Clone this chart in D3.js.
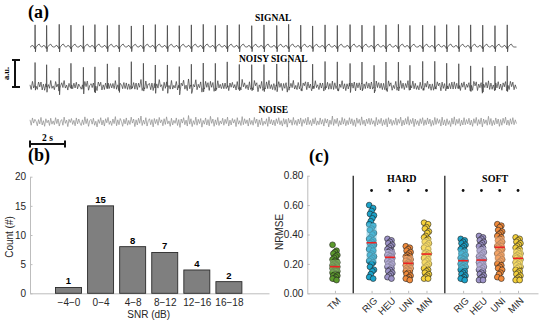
<!DOCTYPE html>
<html>
<head>
<meta charset="utf-8">
<script src="https://cdn.jsdelivr.net/npm/d3@7"></script>
<style>
body { margin: 0; background: #fff; }
svg { display: block; font-family: "Liberation Sans", Arial, sans-serif; }
.serif { font-family: "Liberation Serif", "Times New Roman", serif; font-weight: bold; }
</style>
</head>
<body>
<svg id="fig" width="550" height="324"></svg>
<script>
// ---------- panel (a): ECG traces (time in s, amplitude in a.u.) ----------
var duration = 27.8;
var rPeaks = [0.29, 0.95, 1.67, 2.34, 3.05, 3.71, 4.42, 5.09, 5.79, 6.48,
              7.16, 7.85, 8.53, 9.22, 9.90, 10.59, 11.27, 11.96, 12.67, 13.37,
              14.10, 14.78, 15.47, 16.15, 16.86, 17.56, 18.29, 18.97, 19.66, 20.34,
              21.05, 21.71, 22.44, 23.13, 23.81, 24.50, 25.18, 25.87, 26.57, 27.27];
var rAmp = [0.82, 0.80, 0.84, 0.81, 0.79, 0.83, 0.80, 0.82, 0.78, 0.81,
            0.83, 0.80, 0.79, 0.82, 0.84, 0.80, 0.81, 0.83, 0.79, 0.82,
            0.80, 0.84, 0.81, 0.78, 0.82, 0.80, 0.83, 0.81, 0.79, 0.82,
            0.84, 0.80, 0.81, 0.79, 0.83, 0.80, 0.82, 0.81, 0.79, 0.82];
// one beat, relative to the R peak
var beatT = [-0.25, -0.19, -0.13, -0.08, -0.04, -0.015, 0, 0.02, 0.045, 0.09, 0.16, 0.24, 0.31, 0.38];
var beatV = [0, 0.07, 0.07, 0, 0, -0.08, 1, -0.22, 0, 0.02, 0.10, 0.13, 0.03, 0];
// noise samples, evenly spaced over the record
var noise = [
  0.08,-0.12,0.15,-0.04,0.10,0.02,-0.14,0.09,-0.07,0.17,-0.11,0.05,-0.16,0.12,-0.03,0.07,-0.13,0.14,-0.08,0.04,
  -0.10,0.16,-0.06,0.11,-0.15,0.03,0.09,-0.12,0.18,-0.05,0.07,-0.17,0.10,-0.02,0.13,-0.09,0.06,-0.14,0.15,-0.07,
  0.11,-0.04,-0.13,0.08,-0.10,0.19,-0.06,0.12,-0.16,0.05,0.10,-0.08,0.14,-0.12,0.03,-0.18,0.09,-0.05,0.16,-0.11,
  0.07,-0.15,0.12,-0.03,0.17,-0.09,0.04,-0.13,0.11,-0.06,0.20,-0.14,0.08,-0.10,0.13,0.02,-0.16,0.10,-0.07,0.15,
  -0.12,0.06,-0.09,0.18,-0.04,0.11,-0.17,0.08,-0.11,0.14,-0.05,0.22,-0.13,0.07,-0.08,0.16,-0.15,0.05,0.12,-0.10,
  0.09,-0.18,0.13,-0.06,0.10,-0.12,0.17,-0.03,0.08,-0.14,0.12,-0.09,0.19,-0.07,0.04,-0.16,0.14,-0.11,0.06,-0.05,
  0.15,-0.13,0.09,-0.20,0.11,-0.04,0.16,-0.10,0.07,-0.15,0.24,-0.08,0.12,-0.17,0.05,-0.09,0.18,-0.12,0.10,-0.06,
  0.13,-0.19,0.06,-0.08,0.15,-0.11,0.09,-0.14,0.21,-0.05,0.11,-0.16,0.08,-0.10,0.17,-0.13,0.04,-0.07,0.14,-0.12,
  0.10,-0.06,0.18,-0.15,0.07,-0.11,0.13,-0.04,0.09,-0.17,0.16,-0.08,0.05,-0.13,0.20,-0.10,0.12,-0.06,0.08,-0.15,
  0.14,-0.09,0.06,-0.12,0.17,-0.05,0.11,-0.18,0.08,-0.10,0.15,-0.13,0.03,-0.08,0.12,-0.16,0.19,-0.07,0.09,-0.11,
  0.07,-0.14,0.12,-0.06,0.16,-0.10,0.05,-0.15,0.13,-0.08,0.10,-0.19,0.14,-0.04,0.08,-0.12,0.17,-0.09,0.06,-0.13,
  0.11,-0.07,0.15,-0.16,0.09,-0.05,0.13,-0.11,0.18,-0.09,0.06,-0.14,0.12,-0.07,0.16,-0.12,0.04,-0.10,0.15,-0.08,
  0.09,-0.15,0.13,-0.04,0.11,-0.18,0.07,-0.09,0.22,-0.13,0.10,-0.06,0.14,-0.16,0.05,-0.11,0.17,-0.08,0.12,-0.14,
  0.06,-0.10,0.16,-0.07,0.12,-0.13,0.08,-0.17,0.15,-0.05,0.10,-0.12,0.19,-0.09,0.07,-0.15,0.11,-0.06,0.14,-0.10,
  0.13,-0.08,0.05,-0.16,0.17,-0.11,0.09,-0.06,0.14,-0.14,0.08,-0.10,0.12,-0.18,0.16,-0.07,0.10,-0.13,0.06,-0.09,
  0.15,-0.12,0.10,-0.05,0.18,-0.15,0.07,-0.11,0.13,-0.08,0.20,-0.12,0.09,-0.06,0.14,-0.17,0.11,-0.09,0.05,-0.14,
  0.12,-0.06,0.16,-0.13,0.08,-0.10,0.15,-0.07,0.11,-0.16,0.06,-0.12,0.17,-0.09,0.13,-0.05,0.09,-0.15,0.18,-0.11,
  0.08,-0.14,0.12,-0.09,0.05,-0.17,0.14,-0.08,0.19,-0.12,0.10,-0.06,0.13,-0.15,0.07,-0.11,0.16,-0.10,0.09,-0.07,
  0.14,-0.11,0.07,-0.16,0.12,-0.05,0.17,-0.13,0.09,-0.08,0.15,-0.18,0.11,-0.06,0.08,-0.12,0.21,-0.09,0.13,-0.14,
  0.06,-0.10,0.15,-0.07,0.11,-0.16,0.09,-0.12,0.14,-0.05,0.18,-0.11,0.07,-0.13,0.12,-0.08,0.16,-0.10,0.08,-0.06];

// ---------- panel (b): SNR histogram ----------
var snrBins = ["\u22124\u22120", "0\u22124", "4\u22128", "8\u221212", "12\u221216", "16\u221218"];
var snrCounts = [1, 15, 8, 7, 4, 2];

// ---------- panel (c): NRMSE per method ----------
var methods = ["TM", "RIG", "HEU", "UNI", "MIN", "RIG", "HEU", "UNI", "MIN"];
var methodGroup = ["", "HARD", "HARD", "HARD", "HARD", "SOFT", "SOFT", "SOFT", "SOFT"];
var signif = [false, true, true, true, true, true, true, true, true];
var boxLo  = [0.147, 0.215, 0.181, 0.158, 0.181, 0.170, 0.163, 0.215, 0.177];
var boxMed = [0.181, 0.344, 0.245, 0.204, 0.267, 0.222, 0.226, 0.313, 0.238];
var boxHi  = [0.226, 0.476, 0.295, 0.254, 0.374, 0.299, 0.313, 0.385, 0.300];
var nrmse = [
  [0.33,0.29,0.28,0.27,0.26,0.25,0.24,0.23,0.22,0.22,0.21,0.21,0.20,0.20,0.19,0.19,0.18,0.18,0.18,0.17,0.17,0.17,0.16,0.16,0.15,0.15,0.15,0.14,0.14,0.13,0.13,0.12,0.12,0.11,0.10,0.10,0.09],
  [0.60,0.58,0.56,0.54,0.53,0.51,0.49,0.47,0.46,0.44,0.43,0.41,0.40,0.38,0.37,0.36,0.35,0.34,0.33,0.32,0.31,0.30,0.29,0.27,0.26,0.25,0.24,0.23,0.22,0.21,0.20,0.18,0.16,0.15,0.13,0.11,0.10],
  [0.37,0.36,0.35,0.34,0.33,0.32,0.31,0.30,0.29,0.29,0.28,0.27,0.27,0.26,0.26,0.25,0.25,0.24,0.24,0.23,0.23,0.22,0.22,0.21,0.20,0.20,0.19,0.18,0.18,0.17,0.16,0.15,0.14,0.13,0.12,0.11,0.10],
  [0.32,0.31,0.30,0.29,0.28,0.27,0.26,0.25,0.25,0.24,0.24,0.23,0.23,0.22,0.22,0.21,0.21,0.20,0.20,0.20,0.19,0.19,0.18,0.18,0.17,0.17,0.16,0.16,0.15,0.15,0.14,0.13,0.12,0.11,0.10,0.10,0.09],
  [0.48,0.47,0.45,0.44,0.42,0.41,0.39,0.38,0.37,0.36,0.35,0.34,0.33,0.32,0.31,0.30,0.28,0.27,0.27,0.26,0.25,0.24,0.23,0.22,0.21,0.20,0.19,0.18,0.17,0.16,0.15,0.14,0.13,0.12,0.11,0.10,0.10],
  [0.37,0.36,0.35,0.34,0.33,0.32,0.31,0.30,0.29,0.28,0.27,0.26,0.25,0.24,0.24,0.23,0.23,0.22,0.22,0.21,0.21,0.20,0.20,0.19,0.18,0.18,0.17,0.17,0.16,0.15,0.14,0.13,0.12,0.11,0.10,0.10,0.09],
  [0.39,0.38,0.37,0.36,0.35,0.34,0.33,0.32,0.31,0.30,0.29,0.28,0.27,0.26,0.25,0.24,0.24,0.23,0.23,0.22,0.22,0.21,0.20,0.20,0.19,0.18,0.17,0.16,0.16,0.15,0.14,0.13,0.12,0.11,0.10,0.09,0.09],
  [0.47,0.46,0.45,0.43,0.42,0.41,0.40,0.39,0.38,0.37,0.36,0.35,0.34,0.33,0.32,0.32,0.31,0.31,0.30,0.29,0.28,0.27,0.26,0.25,0.24,0.23,0.22,0.21,0.20,0.19,0.18,0.17,0.16,0.14,0.13,0.11,0.10],
  [0.38,0.37,0.36,0.35,0.34,0.33,0.32,0.31,0.30,0.29,0.28,0.27,0.27,0.26,0.25,0.25,0.24,0.24,0.23,0.23,0.22,0.21,0.21,0.20,0.19,0.18,0.18,0.17,0.16,0.15,0.14,0.13,0.12,0.11,0.10,0.09,0.09]];

var svg = d3.select("#fig");
var axisGrey = "#bdbdbd", textDark = "#262626";

function panelLabel(txt, px, py) {
  svg.append("text").attr("class", "serif").attr("x", px).attr("y", py)
     .style("font-size", "18px").text(txt);
}

// ===== (a) =====
panelLabel("(a)", 28, 17.7);

var x = d3.scaleLinear().domain([0, duration]).range([30, 516.5]);
function traceY(base) { return d3.scaleLinear().domain([0, 1]).range([base, base - 27]); }
var ySig = traceY(47), yNoisy = traceY(87), yNoise = traceY(122);

var sigPts = [{t: 0, v: 0}];
rPeaks.forEach(function(r, k) {
  beatT.forEach(function(bt, j) {
    sigPts.push({t: r + bt, v: beatV[j] * rAmp[k]});
  });
});
sigPts.push({t: duration, v: 0});

var dt = duration / (noise.length - 1);
var noisePts = noise.map(function(v, i) { return {t: i * dt, v: v}; });

var byT = d3.bisector(function(d) { return d.t; }).left;
function valueAt(pts, t) {
  var i = byT(pts, t);
  if (i <= 0) return pts[0].v;
  if (i >= pts.length) return pts[pts.length - 1].v;
  var a = pts[i - 1], b = pts[i];
  return b.t === a.t ? b.v : a.v + (b.v - a.v) * (t - a.t) / (b.t - a.t);
}

// noisy signal = signal + noise
var noisyPts = sigPts.map(function(p) { return {t: p.t, v: p.v + valueAt(noisePts, p.t)}; })
  .concat(noisePts.map(function(p) { return {t: p.t, v: p.v + valueAt(sigPts, p.t)}; }))
  .sort(function(a, b) { return a.t - b.t; });

function drawTrace(pts, yScale, colour, w) {
  svg.append("path")
    .datum(pts)
    .attr("d", d3.line()
      .x(function(d) { return x(d.t); })
      .y(function(d) { return yScale(d.v); }))
    .attr("fill", "none")
    .attr("stroke", colour)
    .attr("stroke-width", w)
    .attr("stroke-linejoin", "round");
}
drawTrace(sigPts, ySig, "#404040", 0.75);
drawTrace(noisyPts, yNoisy, "#3a3a3a", 0.7);
drawTrace(noisePts, yNoise, "#8c8c8c", 0.7);

var titles = [["SIGNAL", 20.5], ["NOISY SIGNAL", 62], ["NOISE", 112.5]];
titles.forEach(function(t) {
  svg.append("text").attr("class", "serif")
    .attr("x", x(duration / 2)).attr("y", t[1])
    .attr("text-anchor", "middle").style("font-size", "9.5px").text(t[0]);
});

// amplitude bar (1 a.u.)
svg.append("line").attr("x1", 15).attr("x2", 15).attr("y1", yNoisy(1)).attr("y2", yNoisy(0))
  .attr("stroke", "#111").attr("stroke-width", 2);
[yNoisy(1), yNoisy(0)].forEach(function(yy) {
  svg.append("line").attr("x1", 12).attr("x2", 20).attr("y1", yy).attr("y2", yy)
    .attr("stroke", "#111").attr("stroke-width", 2);
});
svg.append("text").attr("class", "serif")
  .attr("transform", "translate(9," + yNoisy(0.5) + ") rotate(-90)")
  .attr("text-anchor", "middle").style("font-size", "8.5px").text("a.u.");

// time bar (2 s)
svg.append("line").attr("x1", x(0)).attr("x2", x(2)).attr("y1", 144).attr("y2", 144)
  .attr("stroke", "#111").attr("stroke-width", 2);
[0, 2].forEach(function(tt) {
  svg.append("line").attr("x1", x(tt)).attr("x2", x(tt)).attr("y1", 140.5).attr("y2", 147.5)
    .attr("stroke", "#111").attr("stroke-width", 2);
});
svg.append("text").attr("class", "serif").attr("x", x(1)).attr("y", 140.5)
  .attr("text-anchor", "middle").style("font-size", "9.5px").text("2 s");

// ===== (b) =====
panelLabel("(b)", 28, 161);

var xb = d3.scaleLinear().domain([-1.2, 6.25]).range([30, 269]);
var yb = d3.scaleLinear().domain([0, 20]).range([293.3, 176.7]);
var barW = (xb(1) - xb(0)) * 0.81;

var gyb = svg.append("g").attr("transform", "translate(30,0)")
  .call(d3.axisLeft(yb).tickValues([0, 5, 10, 15, 20]).tickSizeInner(-2.5).tickSizeOuter(0).tickPadding(4));
var gxb = svg.append("g").attr("transform", "translate(0,293.3)")
  .call(d3.axisBottom(xb).tickValues(d3.range(snrBins.length))
    .tickFormat(function(i) { return snrBins[i]; })
    .tickSizeInner(-2.5).tickSizeOuter(0).tickPadding(6));

svg.selectAll("rect.bar")
  .data(snrCounts)
  .enter()
  .append("rect")
    .attr("class", "bar")
    .attr("x", function(d, i) { return xb(i) - barW / 2; })
    .attr("y", function(d) { return yb(d); })
    .attr("width", barW)
    .attr("height", function(d) { return yb(0) - yb(d); })
    .attr("fill", "#7f7f7f")
    .attr("stroke", "#2a2a2a")
    .attr("stroke-width", 0.9);

svg.selectAll("text.count")
  .data(snrCounts)
  .enter()
  .append("text")
    .attr("class", "count")
    .attr("x", function(d, i) { return xb(i); })
    .attr("y", function(d) { return yb(d) - 3; })
    .attr("text-anchor", "middle")
    .style("font-size", "9.5px").style("font-weight", "bold")
    .text(function(d) { return d; });

svg.append("text").attr("x", xb(2.5)).attr("y", 317.5).attr("text-anchor", "middle")
  .style("font-size", "10px").attr("fill", textDark).text("SNR (dB)");
svg.append("text").attr("transform", "translate(13,237) rotate(-90)").attr("text-anchor", "middle")
  .style("font-size", "10px").attr("fill", textDark).text("Count (#)");

// ===== (c) =====
panelLabel("(c)", 309, 162);

var pos = methods.map(function(m, i) {
  var g = methodGroup[i] === "" ? 0 : (methodGroup[i] === "HARD" ? 1 : 2);
  return i + g;
});
var xc = d3.scaleLinear().domain([-1.51, 11.09]).range([307.3, 538]);
var yc = d3.scaleLinear().domain([0, 0.8]).range([293.3, 175.7]);
var colour = d3.scaleOrdinal()
  .domain(["TM", "RIG", "HEU", "UNI", "MIN"])
  .range(["#5c9a2c", "#1ba3ca", "#9d93c9", "#f28b3b", "#f5d13a"]);

var gyc = svg.append("g").attr("transform", "translate(307.3,0)")
  .call(d3.axisLeft(yc).tickValues([0, 0.2, 0.4, 0.6, 0.8]).tickFormat(d3.format(".2f"))
    .tickSizeInner(-2.5).tickSizeOuter(0).tickPadding(4));
var gxc = svg.append("g").attr("transform", "translate(0,293.3)")
  .call(d3.axisBottom(xc).tickValues(pos).tickFormat("").tickSizeInner(-2.5).tickSizeOuter(0));

[gyb, gxb, gyc, gxc].forEach(function(g) {
  g.selectAll("path, line").attr("stroke", axisGrey);
  g.selectAll("text").attr("fill", textDark).style("font-size", "10px")
    .style("font-family", "'Liberation Sans', Arial, sans-serif");
});

svg.selectAll("text.mname")
  .data(methods)
  .enter()
  .append("text")
    .attr("class", "mname")
    .attr("transform", function(d, i) { return "translate(" + (xc(pos[i]) + 4) + ",299) rotate(-45)"; })
    .attr("text-anchor", "end")
    .attr("dy", "0.35em")
    .attr("fill", textDark)
    .style("font-size", "9.5px")
    .text(function(d) { return d; });

// group separators
[1, 6].forEach(function(p) {
  svg.append("line").attr("x1", xc(p)).attr("x2", xc(p)).attr("y1", yc(0.8)).attr("y2", yc(0))
    .attr("stroke", "#333").attr("stroke-width", 1.4);
});
[["HARD", 3.65], ["SOFT", 8.75]].forEach(function(g) {
  svg.append("text").attr("class", "serif").attr("x", xc(g[1])).attr("y", 181.7)
    .attr("text-anchor", "middle").style("font-size", "10px").text(g[0]);
});

// points, then translucent box, then median
nrmse.forEach(function(vals, m) {
  var cx = xc(pos[m]);
  var c = colour(methods[m]);
  svg.append("g").selectAll("circle")
    .data(vals)
    .enter()
    .append("circle")
      .attr("cx", function(d, i) { return cx + ((i * 5) % 7 - 3) * 0.8; })
      .attr("cy", function(d) { return yc(d); })
      .attr("r", 2.9)
      .attr("fill", c)
      .attr("stroke", "#222")
      .attr("stroke-width", 0.6);
  var bw = 10;
  svg.append("rect")
    .attr("x", cx - bw / 2).attr("width", bw)
    .attr("y", yc(boxHi[m])).attr("height", yc(boxLo[m]) - yc(boxHi[m]))
    .attr("fill", d3.interpolateRgb(c, "#ffffff")(0.35))
    .attr("fill-opacity", 0.6);
  svg.append("line")
    .attr("x1", cx - bw / 2).attr("x2", cx + bw / 2)
    .attr("y1", yc(boxMed[m])).attr("y2", yc(boxMed[m]))
    .attr("stroke", "#ee2222").attr("stroke-width", 1.6);
  if (signif[m]) {
    svg.append("circle").attr("cx", cx).attr("cy", 190.5).attr("r", 1.4).attr("fill", "#111");
  }
});

svg.append("text").attr("transform", "translate(283,232) rotate(-90)").attr("text-anchor", "middle")
  .style("font-size", "10px").attr("fill", textDark).text("NRMSE");
</script>
</body>
</html>
